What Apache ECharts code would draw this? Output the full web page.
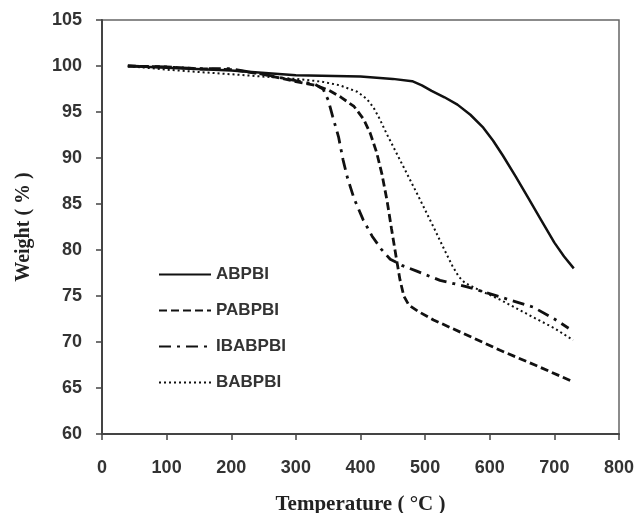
<!DOCTYPE html>
<html><head><meta charset="utf-8">
<script src="https://cdn.jsdelivr.net/npm/echarts@6/dist/echarts.min.js"></script>
<style>html,body{margin:0;padding:0;background:#fff}#c{width:636px;height:513px}</style>
</head><body><div id="c"></div>
<script>
const xTicks = [0,100,200,300,400,500,600,700,800];
const yTicks = [60,65,70,75,80,85,90,95,100,105];
const seriesNames = ['ABPBI','PABPBI','IBABPBI','BABPBI'];
const abpbi = [[40,100],[100,99.8],[200,99.5],[300,99.0],[400,98.85],[450,98.6],[480,98.35],[495,97.9],[510,97.3],[530,96.6],[550,95.8],[570,94.7],[590,93.3],[605,91.9],[620,90.3],[640,88.0],[660,85.6],[680,83.2],[700,80.8],[715,79.3],[730,78]];
const pabpbi = [[40,100],[100,99.9],[150,99.7],[200,99.6],[250,99.1],[300,98.3],[330,97.9],[350,97.4],[370,96.6],[390,95.6],[405,94.2],[415,92.7],[425,90.6],[433,88.3],[441,85.4],[448,82.3],[455,79.3],[461,76.8],[467,75.0],[475,74.0],[490,73.3],[513,72.4],[560,70.9],[616,69.1],[670,67.5],[725,65.8]];
const ibabpbi = [[40,100],[100,99.9],[150,99.7],[200,99.7],[250,99.1],[300,98.4],[330,98.0],[342,97.5],[350,96.3],[357,94.5],[366,92.3],[373,89.8],[380,87.8],[390,85.6],[404,83.3],[418,81.5],[432,80.1],[446,79.0],[465,78.3],[487,77.7],[523,76.7],[565,76],[616,74.9],[667,73.8],[700,72.5],[722,71.5]];
const babpbi = [[40,100],[100,99.6],[200,99.1],[300,98.6],[340,98.3],[368,97.9],[395,97.2],[410,96.4],[420,95.5],[430,94.2],[440,92.7],[461,89.8],[487,86.2],[513,82.5],[530,80.0],[542,78.3],[552,77.1],[562,76.4],[585,75.6],[616,74.6],[667,72.7],[700,71.5],[729,70.2]];

const chart = echarts.init(document.getElementById('c'));
const lbl = {fontFamily:'Liberation Sans, Arial, sans-serif', fontWeight:'bold', fontSize:18, color:'#333'};
function mk(name, data, type, width){
  return {name, type:'line', data, showSymbol:false, symbol:'none', smooth:false,
    lineStyle:{color:'#111', width, type}, itemStyle:{color:'#111'}};
}
chart.setOption({
  animation:false,
  grid:{left:102, right:17, top:20, bottom:79, outerBoundsMode:'none', containLabel:false,
    show:true, borderColor:'#666', borderWidth:1.5, backgroundColor:'transparent'},
  legend:{orient:'vertical', left:158, top:266, padding:0, itemWidth:52, itemHeight:12, itemGap:19,
    itemStyle:{opacity:0},
    data:seriesNames, textStyle:Object.assign({}, lbl, {fontSize:17})},
  xAxis:{type:'value', min:0, max:800, interval:100,
    name:'Temperature ( °C )', nameLocation:'middle', nameGap:60,
    nameTextStyle:{fontFamily:'Liberation Serif, Times New Roman, serif', fontWeight:'bold', fontSize:21, color:'#222'},
    axisLine:{show:true, lineStyle:{color:'#444', width:2}},
    axisTick:{show:true, inside:false, length:6, lineStyle:{color:'#444', width:1.5}},
    axisLabel:Object.assign({margin:25, formatter:v=>xTicks.includes(v)?String(v):''}, lbl),
    splitLine:{show:false}},
  yAxis:{type:'value', min:60, max:105, interval:5,
    name:'Weight ( % )', nameLocation:'middle', nameGap:68, nameRotate:90,
    nameTextStyle:{fontFamily:'Liberation Serif, Times New Roman, serif', fontWeight:'bold', fontSize:20, color:'#222'},
    axisLine:{show:true, lineStyle:{color:'#444', width:2}},
    axisTick:{show:true, inside:false, length:6, lineStyle:{color:'#444', width:1.5}},
    axisLabel:Object.assign({margin:20, formatter:v=>yTicks.includes(v)?String(v):''}, lbl),
    splitLine:{show:false}},
  series:[
    mk('ABPBI', abpbi, 'solid', 2.5),
    mk('PABPBI', pabpbi, [8,4], 2.8),
    mk('IBABPBI', ibabpbi, [12,6,3,6], 2.8),
    mk('BABPBI', babpbi, [2,3], 2)
  ]
});
</script></body></html>
